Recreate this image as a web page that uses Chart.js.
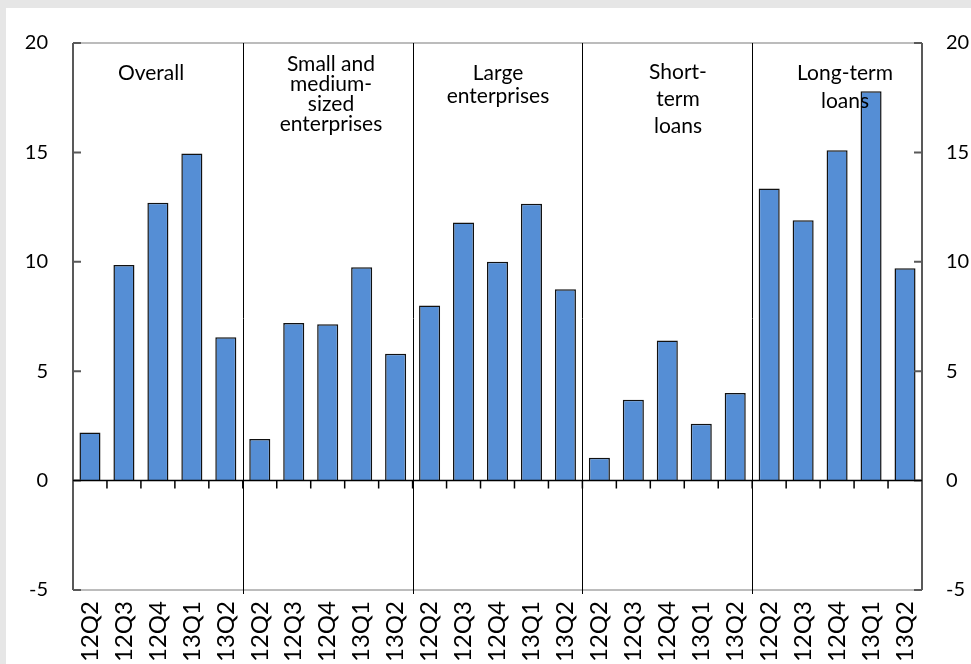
<!DOCTYPE html>
<html>
<head>
<meta charset="utf-8">
<script src="https://cdn.jsdelivr.net/npm/chart.js@4.4.0/dist/chart.umd.min.js"></script>
<style>
  body { margin: 0; background: #e6e6e6; overflow: hidden; width: 971px; height: 664px; }
  #paper { position: absolute; left: 6px; top: 8px; right: 0; bottom: 0; background: #fff; }
  #myChart { position: absolute; left: 0; top: 0; }
</style>
</head>
<body>
<div id="paper"></div>
<canvas id="myChart" width="971" height="720"></canvas>
<script>
// neljännekset toistuvat joka ryhmässä
var quarters = ['12Q2', '12Q3', '12Q4', '13Q1', '13Q2']

var groupNames = [
  ['Overall'],
  ['Small and', 'medium-', 'sized', 'enterprises'],
  ['Large', 'enterprises'],
  ['Short-', 'term', 'loans'],
  ['Long-term', 'loans']
]

var overall = [2.2, 9.85, 12.7, 14.95, 6.55]
var smes = [1.9, 7.2, 7.15, 9.75, 5.8]
var large = [8.0, 11.8, 10.0, 12.65, 8.75]
var shortTerm = [1.05, 3.7, 6.4, 2.6, 4.0]
var longTerm = [13.35, 11.9, 15.1, 17.8, 9.7]

var yTicks = [-5, 0, 5, 10, 15, 20]

// kootaan labelit ja arvot yhteen listaan
var labels = []
var values = []
;[overall, smes, large, shortTerm, longTerm].forEach(function (g) {
  g.forEach(function (v, i) {
    labels.push(quarters[i])
    values.push(v)
  })
})

var FONT = 'Lato'

// ryhmien otsikoiden paikat (keskikohta x, ensimmäinen rivi y, riviväli)
var nameStyle = [
  { x: 151, y: 73, lh: 22 },
  { x: 331, y: 64, lh: 20 },
  { x: 498, y: 73, lh: 23 },
  { x: 678, y: 72, lh: 27 },
  { x: 845, y: 73, lh: 28 }
]

var framePlugin = {
  id: 'frame',
  beforeDatasetsDraw: function (chart) {
    var ctx = chart.ctx
    var a = chart.chartArea
    var x = chart.scales.x
    ctx.save()
    // ylä ja alareuna
    ctx.strokeStyle = '#a6a6a6'
    ctx.lineWidth = 1.5
    ctx.beginPath()
    ctx.moveTo(a.left, a.top); ctx.lineTo(a.right, a.top)
    ctx.moveTo(a.left, a.bottom); ctx.lineTo(a.right, a.bottom)
    ctx.stroke()
    // ryhmien väliviivat
    ctx.strokeStyle = '#000'
    ctx.lineWidth = 1
    ctx.beginPath()
    for (var g = 1; g < groupNames.length; g++) {
      var px = Math.round(x.getPixelForValue(g * quarters.length - 0.5)) + 0.5
      ctx.moveTo(px, a.top); ctx.lineTo(px, a.bottom + 4)
    }
    ctx.stroke()
    ctx.restore()
  },
  afterDatasetsDraw: function (chart) {
    var ctx = chart.ctx
    var a = chart.chartArea
    var x = chart.scales.x
    var y = chart.scales.y
    var y0 = y.getPixelForValue(0)
    ctx.save()
    // sivuakselit
    ctx.strokeStyle = '#595959'
    ctx.lineWidth = 2
    ctx.beginPath()
    ctx.moveTo(a.left, a.top); ctx.lineTo(a.left, a.bottom)
    ctx.moveTo(a.right, a.top); ctx.lineTo(a.right, a.bottom)
    yTicks.forEach(function (t) {
      var py = y.getPixelForValue(t)
      ctx.moveTo(a.left, py); ctx.lineTo(a.left + 8, py)
      ctx.moveTo(a.right, py); ctx.lineTo(a.right - 8, py)
    })
    ctx.stroke()
    // nollaviiva ja pienet tikit
    ctx.strokeStyle = '#000'
    ctx.lineWidth = 1.5
    ctx.beginPath()
    ctx.moveTo(a.left, y0); ctx.lineTo(a.right, y0)
    for (var i = 1; i < labels.length; i++) {
      var px = x.getPixelForValue(i - 0.5)
      ctx.moveTo(px, y0); ctx.lineTo(px, y0 + 8)
    }
    ctx.stroke()
    // ryhmien nimet
    ctx.fillStyle = '#000'
    ctx.font = '21px "' + FONT + '"'
    ctx.textAlign = 'center'
    ctx.textBaseline = 'middle'
    groupNames.forEach(function (lines, g) {
      var s = nameStyle[g]
      lines.forEach(function (t, k) {
        ctx.fillText(t, s.x, s.y + k * s.lh)
      })
    })
    ctx.restore()
  }
}

function drawchart() {
  new Chart(document.getElementById('myChart'), {
    type: 'bar',
    data: {
      labels: labels,
      datasets: [{
        data: values,
        backgroundColor: '#558ed5',
        borderColor: '#111',
        borderWidth: 1.5,
        borderSkipped: 'bottom',
        categoryPercentage: 1,
        barPercentage: 0.62
      }]
    },
    options: {
      responsive: false,
      animation: false,
      events: [],
      layout: { padding: { top: 43, left: 0, right: 0, bottom: 0 } },
      plugins: { legend: { display: false }, tooltip: { enabled: false } },
      scales: {
        x: {
          grid: { display: false, drawTicks: false },
          border: { display: false },
          ticks: {
            minRotation: 90, maxRotation: 90, autoSkip: false, padding: 11,
            color: '#000', font: { family: FONT, size: 24 }
          },
          afterFit: function (s) { s.height = 130 }
        },
        y: {
          position: 'left',
          min: -5, max: 20,
          grid: { display: false, drawTicks: false },
          border: { display: false },
          ticks: { stepSize: 5, padding: 25, color: '#000', font: { family: FONT, size: 20 } },
          afterFit: function (s) { s.width = 73 }
        },
        y2: {
          position: 'right',
          min: -5, max: 20,
          grid: { display: false, drawTicks: false },
          border: { display: false },
          ticks: { stepSize: 5, padding: 24, color: '#000', font: { family: FONT, size: 20 } },
          afterFit: function (s) { s.width = 49 }
        }
      }
    },
    plugins: [framePlugin]
  })
}

drawchart()
</script>
</body>
</html>
